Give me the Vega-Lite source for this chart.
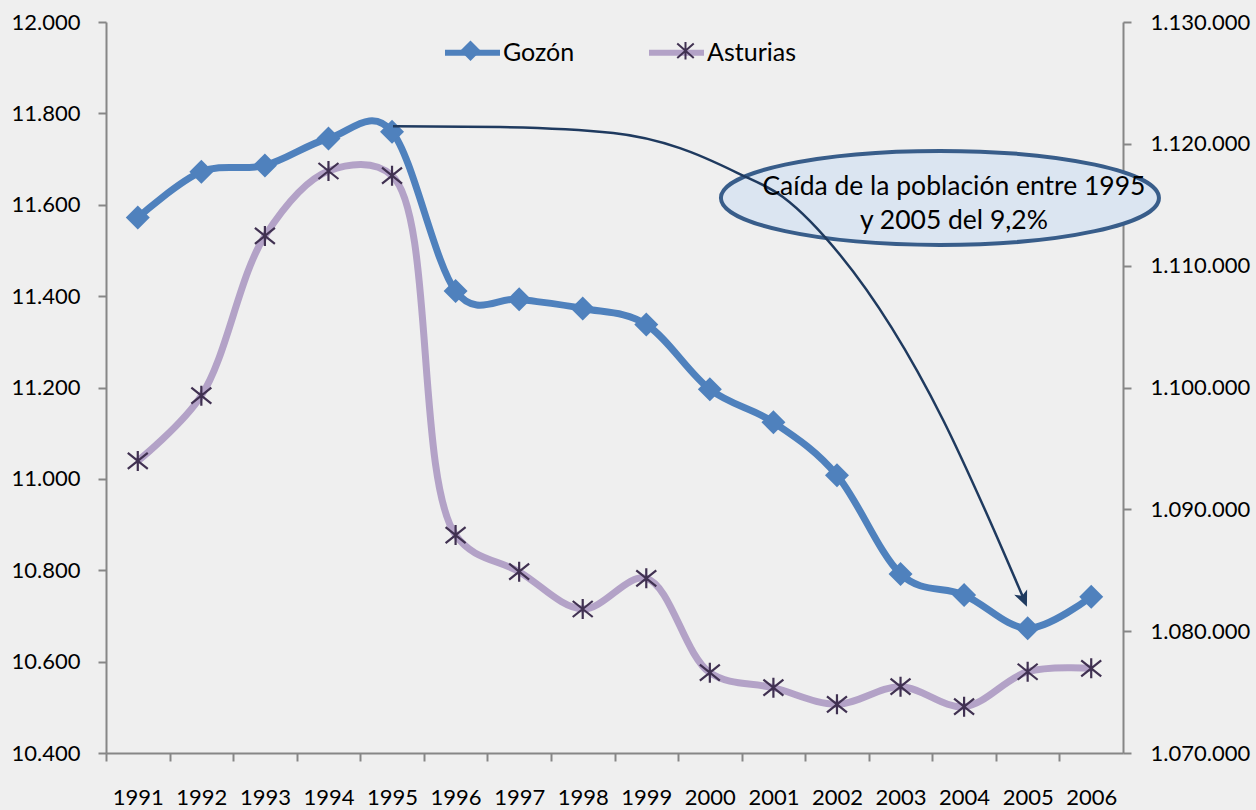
{
  "$schema": "https://vega.github.io/schema/vega-lite/v6.json",
  "width": 1017,
  "height": 731,
  "autosize": {"type": "none"},
  "padding": {"left": 106, "top": 22, "right": 133, "bottom": 57},
  "background": "#efefef",
  "config": {
    "locale": {"number": {"decimal": ",", "thousands": ".", "grouping": [3], "currency": ["", " €"]}},
    "view": {"stroke": null},
    "font": "Lato",
    "axis": {"labelFont": "Lato", "labelFontSize": 22, "labelColor": "#000000", "domainColor": "#868686", "domainWidth": 2, "tickColor": "#868686", "tickWidth": 2, "tickSize": 8, "grid": false, "title": null, "labelOverlap": false, "labelBound": false, "labelFlush": false},
    "legend": {"orient": "none", "direction": "horizontal", "title": null, "labelFont": "Lato", "labelFontSize": 25, "labelColor": "#000000", "symbolSize": 3025, "symbolStrokeWidth": 6, "symbolOpacity": 1, "columnPadding": 44, "gridAlign": "all", "labelOffset": 0, "padding": 0, "legendX": 336, "legendY": 0}
  },
  "datasets": {
    "poblacion": [
      {"year": 1991, "serie": "Gozón", "habitantes": 11572},
      {"year": 1992, "serie": "Gozón", "habitantes": 11672},
      {"year": 1993, "serie": "Gozón", "habitantes": 11686},
      {"year": 1994, "serie": "Gozón", "habitantes": 11745},
      {"year": 1995, "serie": "Gozón", "habitantes": 11760},
      {"year": 1996, "serie": "Gozón", "habitantes": 11411},
      {"year": 1997, "serie": "Gozón", "habitantes": 11393},
      {"year": 1998, "serie": "Gozón", "habitantes": 11373},
      {"year": 1999, "serie": "Gozón", "habitantes": 11338},
      {"year": 2000, "serie": "Gozón", "habitantes": 11196},
      {"year": 2001, "serie": "Gozón", "habitantes": 11124},
      {"year": 2002, "serie": "Gozón", "habitantes": 11008},
      {"year": 2003, "serie": "Gozón", "habitantes": 10792},
      {"year": 2004, "serie": "Gozón", "habitantes": 10746},
      {"year": 2005, "serie": "Gozón", "habitantes": 10673},
      {"year": 2006, "serie": "Gozón", "habitantes": 10742},
      {"year": 1991, "serie": "Asturias", "habitantes": 1093970},
      {"year": 1992, "serie": "Asturias", "habitantes": 1099330},
      {"year": 1993, "serie": "Asturias", "habitantes": 1112440},
      {"year": 1994, "serie": "Asturias", "habitantes": 1117770},
      {"year": 1995, "serie": "Asturias", "habitantes": 1117390},
      {"year": 1996, "serie": "Asturias", "habitantes": 1087890},
      {"year": 1997, "serie": "Asturias", "habitantes": 1084880},
      {"year": 1998, "serie": "Asturias", "habitantes": 1081820},
      {"year": 1999, "serie": "Asturias", "habitantes": 1084340},
      {"year": 2000, "serie": "Asturias", "habitantes": 1076590},
      {"year": 2001, "serie": "Asturias", "habitantes": 1075360},
      {"year": 2002, "serie": "Asturias", "habitantes": 1074000},
      {"year": 2003, "serie": "Asturias", "habitantes": 1075440},
      {"year": 2004, "serie": "Asturias", "habitantes": 1073800},
      {"year": 2005, "serie": "Asturias", "habitantes": 1076670},
      {"year": 2006, "serie": "Asturias", "habitantes": 1076950}
    ],
    "conector": [
      {"year": 1995.015, "habitantes": 11772},
      {"year": 1996.7, "habitantes": 11770},
      {"year": 1998.48, "habitantes": 11757},
      {"year": 1999.53, "habitantes": 11724},
      {"year": 2000.43, "habitantes": 11670},
      {"year": 2001.15, "habitantes": 11617},
      {"year": 2002.05, "habitantes": 11490},
      {"year": 2003.67, "habitantes": 11129},
      {"year": 2004.33, "habitantes": 10932},
      {"year": 2004.93, "habitantes": 10740}
    ],
    "flecha": [
      {"year": 2004.927, "habitantes": 10740}
    ],
    "nota": [
      {"year": 2003.62, "habitantes": 11615, "texto": ["Caída de la población entre 1995", "y 2005 del 9,2%"]}
    ]
  },
  "layer": [
    {
      "layer": [
        {
          "data": {"name": "poblacion"},
          "transform": [{"filter": "datum.serie === 'Gozón'"}],
          "mark": {"type": "line", "interpolate": "cardinal", "tension": 0, "strokeWidth": 7},
          "encoding": {
            "x": {"field": "year", "type": "quantitative", "scale": {"domain": [1990.5, 2006.5], "nice": false, "zero": false},
                  "axis": {"orient": "bottom", "values": [1991, 1992, 1993, 1994, 1995, 1996, 1997, 1998, 1999, 2000, 2001, 2002, 2003, 2004, 2005, 2006, 2007], "format": "d", "tickOffset": -31.78, "labelOffset": 31.78, "labelExpr": "datum.value > 2006 ? '' : datum.label", "labelBaseline": "top", "labelPadding": 26, "labelFontSize": 22}},
            "y": {"field": "habitantes", "type": "quantitative", "scale": {"domain": [10400, 12000], "nice": false, "zero": false},
                  "axis": {"orient": "left", "values": [10400, 10600, 10800, 11000, 11200, 11400, 11600, 11800, 12000], "format": ",d", "labelPadding": 18}},
            "stroke": {"field": "serie", "type": "nominal", "scale": {"domain": ["Gozón", "Asturias"], "range": ["#4f81bd", "#b3a2c7"]},
                       "legend": {"symbolType": "stroke"}}
          }
        },
        {
          "data": {"name": "poblacion"},
          "transform": [{"filter": "datum.serie === 'Gozón'"}],
          "mark": {"type": "point", "shape": "diamond", "filled": true, "fill": "#4f81bd", "size": 576, "opacity": 1},
          "encoding": {
            "x": {"field": "year", "type": "quantitative"},
            "y": {"field": "habitantes", "type": "quantitative"}
          }
        },
        {
          "data": {"name": "poblacion"},
          "transform": [{"filter": "datum.year > 3000"}],
          "mark": {"type": "point", "filled": false, "opacity": 1, "strokeWidth": 2},
          "encoding": {
            "x": {"field": "year", "type": "quantitative"},
            "y": {"field": "habitantes", "type": "quantitative"},
            "color": {"field": "serie", "type": "nominal", "scale": {"domain": ["Asturias", "Gozón"], "range": ["#403151", "#4f81bd"]},
                      "legend": {"values": ["Gozón", "Asturias"], "labelExpr": "''", "symbolStrokeWidth": 2, "columnPadding": 152}},
            "fill": {"field": "serie", "type": "nominal", "scale": {"domain": ["Asturias", "Gozón"], "range": ["transparent", "#4f81bd"]},
                     "legend": {"values": ["Gozón", "Asturias"], "labelExpr": "''", "symbolStrokeWidth": 2, "columnPadding": 152}},
            "shape": {"field": "serie", "type": "nominal", "scale": {"domain": ["Asturias", "Gozón"], "range": ["M -1 0 L -1 0 M 1 0 L 1 0 M -0.3 -0.26 L 0.3 0.26 M -0.3 0.26 L 0.3 -0.26 M 0 -0.32 L 0 0.32", "M -1 0 L -1 0 M 1 0 L 1 0 M -0.32 0 L 0 -0.32 L 0.32 0 L 0 0.32 Z"]},
                      "legend": {"values": ["Gozón", "Asturias"], "labelExpr": "''", "symbolStrokeWidth": 2, "columnPadding": 152}}
          }
        },
        {
          "data": {"name": "nota"},
          "mark": {"type": "point", "shape": "M -1 0 C -1 -0.1185 -0.5523 -0.2146 0 -0.2146 C 0.5523 -0.2146 1 -0.1185 1 0 C 1 0.1185 0.5523 0.2146 0 0.2146 C -0.5523 0.2146 -1 0.1185 -1 0 Z", "size": 191844, "filled": true, "fill": "#dbe5f1", "stroke": "#385d8a", "strokeWidth": 4, "opacity": 1},
          "encoding": {
            "x": {"field": "year", "type": "quantitative"},
            "y": {"field": "habitantes", "type": "quantitative"}
          }
        },
        {
          "data": {"name": "conector"},
          "mark": {"type": "line", "interpolate": "monotone", "stroke": "#1f3a5f", "strokeWidth": 2.5},
          "encoding": {
            "x": {"field": "year", "type": "quantitative"},
            "y": {"field": "habitantes", "type": "quantitative"}
          }
        },
        {
          "data": {"name": "flecha"},
          "mark": {"type": "point", "shape": "M 0 1 L -0.7 -0.6 L 0 -0.2 L 0.7 -0.6 Z", "size": 400, "filled": true, "fill": "#1f3a5f", "angle": 337, "opacity": 1},
          "encoding": {
            "x": {"field": "year", "type": "quantitative"},
            "y": {"field": "habitantes", "type": "quantitative"}
          }
        },
        {
          "data": {"name": "nota"},
          "mark": {"type": "text", "align": "center", "baseline": "middle", "font": "Lato", "fontSize": 26.5, "lineHeight": 34, "color": "#000000", "dx": 14, "dy": -11},
          "encoding": {
            "x": {"field": "year", "type": "quantitative"},
            "y": {"field": "habitantes", "type": "quantitative"},
            "text": {"field": "texto"}
          }
        }
      ]
    },
    {
      "layer": [
        {
          "data": {"name": "poblacion"},
          "transform": [{"filter": "datum.serie === 'Asturias'"}],
          "mark": {"type": "line", "interpolate": "catmull-rom", "strokeWidth": 7},
          "encoding": {
            "x": {"field": "year", "type": "quantitative"},
            "y": {"field": "habitantes", "type": "quantitative", "scale": {"domain": [1070000, 1130000], "nice": false, "zero": false},
                  "axis": {"orient": "right", "values": [1070000, 1080000, 1090000, 1100000, 1110000, 1120000, 1130000], "format": ",d", "labelPadding": 19}},
            "stroke": {"field": "serie", "type": "nominal"}
          }
        },
        {
          "data": {"name": "poblacion"},
          "transform": [{"filter": "datum.serie === 'Asturias'"}],
          "mark": {"type": "point", "shape": "M -1 -0.8 L 1 0.8 M -1 0.8 L 1 -0.8 M 0 -1 L 0 1", "filled": false, "stroke": "#403151", "strokeWidth": 2.2, "size": 400, "opacity": 1},
          "encoding": {
            "x": {"field": "year", "type": "quantitative"},
            "y": {"field": "habitantes", "type": "quantitative"}
          }
        }
      ]
    }
  ],
  "resolve": {"scale": {"y": "independent"}}
}
